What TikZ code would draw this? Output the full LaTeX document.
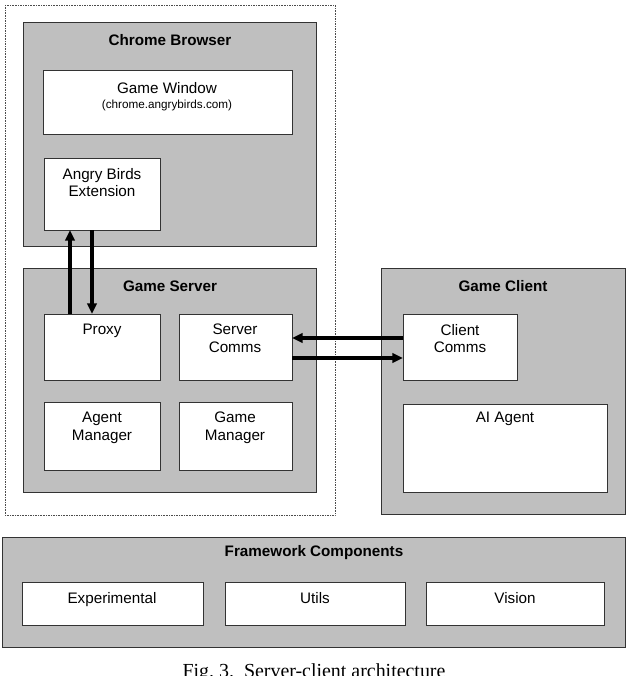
\documentclass[tikz,border=0pt]{standalone}
\usepackage{fontspec}
\setmainfont{Liberation Sans}
\newfontfamily\capfont{Liberation Serif}
\usetikzlibrary{arrows.meta}
\begin{document}
\begin{tikzpicture}[x=0.03cm,y=-0.03cm,
  grp/.style={draw=black!80,fill=black!25,line width=0.8pt},
  box/.style={draw=black!80,fill=white,line width=0.8pt},
  ttl/.style={font=\fontsize{13}{15}\selectfont\bfseries},
  lbl/.style={font=\fontsize{13}{15}\selectfont,align=center,anchor=north},
  fw/.style={font=\fontsize{13}{15}\selectfont,text height=9pt,text depth=3pt},
  arr/.style={-{Triangle[length=9pt,width=8pt]},line width=3pt}]
\useasboundingbox (0,0) rectangle (628,676);
% chrome + server dotted outline
\draw[densely dotted,black!70] (5,5) rectangle (335,515);
\draw[grp] (23,22) rectangle (316,246);
\node[ttl] (cbt) at (170,40) {Chrome Browser};
\draw[box] (43,70) rectangle (292,134);
\node[lbl] (gw) at (167,78) {Game Window\\[-2pt]{\fontsize{10}{12}\selectfont(chrome.angrybirds.com)}};
\draw[box] (44,158) rectangle (160,230);
\node[lbl] (ext) at (102,164) {Angry Birds\\Extension};
\coordinate (extb1) at (70,230);
\coordinate (extb2) at (92,230);
% game server
\draw[grp] (23,268) rectangle (316,492);
\node[ttl] (gst) at (170,286) {Game Server};
\draw[box] (44,314) rectangle (160,380);
\node[lbl] (proxy) at (102,320) {Proxy};
\coordinate (pxt1) at (70,314);
\coordinate (pxt2) at (92,314);
\draw[box] (179,314) rectangle (292,380);
\node[lbl] (sc) at (235,320) {Server\\Comms};
\coordinate (scr1) at (292,338);
\coordinate (scr2) at (292,358);
\draw[box] (44,402) rectangle (160,470);
\node[lbl] (am) at (102,408) {Agent\\Manager};
\draw[box] (179,402) rectangle (292,470);
\node[lbl] (gm) at (235,408) {Game\\Manager};
% game client
\draw[grp] (381,268) rectangle (625,514);
\node[ttl] (gct) at (503,286) {Game Client};
\draw[box] (403,314) rectangle (517,380);
\node[lbl] (cc) at (460,320) {Client\\Comms};
\coordinate (ccl1) at (403,338);
\coordinate (ccl2) at (403,358);
\draw[box] (403,404) rectangle (607,492);
\node[lbl] (ai) at (505,408) {AI Agent};
% framework
\draw[grp] (2,537) rectangle (625,647);
\node[ttl] (fct) at (314,553) {Framework Components};
\draw[box] (22,582) rectangle (203,625);
\node[fw] (exp) at (112,600) {Experimental};
\draw[box] (225,582) rectangle (405,625);
\node[fw] (ut) at (315,600) {Utils};
\draw[box] (426,582) rectangle (604,625);
\node[fw] (vis) at (515,600) {Vision};
% arrows
\draw[arr] (pxt1) -- (extb1);
\draw[arr] (extb2) -- (pxt2);
\draw[arr] (ccl1) -- (scr1);
\draw[arr] (scr2) -- (ccl2);
% caption (cut off at bottom, as in the source)
\node[font=\capfont\fontsize{17}{20}\selectfont,anchor=north] (cap) at (314,660) {Fig.~3.\ \ Server-client architecture};
\end{tikzpicture}
\end{document}
